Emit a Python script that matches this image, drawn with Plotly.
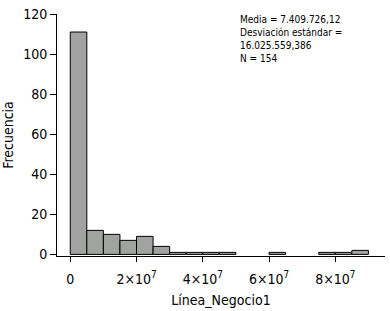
import plotly.graph_objects as go

bin_starts = [0, 5e6, 10e6, 15e6, 20e6, 25e6, 30e6, 35e6, 40e6, 45e6, 60e6, 75e6, 80e6, 85e6]
counts = [111, 12, 10, 7, 9, 4, 1, 1, 1, 1, 1, 1, 1, 2]
bin_width = 5e6

x_tickvals = [0, 2e7, 4e7, 6e7, 8e7]
x_ticktext = ["0", "2×10<sup>7</sup>", "4×10<sup>7</sup>", "6×10<sup>7</sup>", "8×10<sup>7</sup>"]
y_tickvals = [0, 20, 40, 60, 80, 100, 120]

stats_lines = ["Media = 7.409.726,12", "Desviación estándar =", "16.025.559,386", "N = 154"]

FONT = "Liberation Sans Narrow, DejaVu Sans Condensed, Arial Narrow, sans-serif"

W, H = 390, 311
ML, MR, MT, MB = 57, 5, 14, 55
PW, PH = W - ML - MR, H - MT - MB

fig = go.Figure()
fig.add_trace(go.Bar(
    x=[s + bin_width / 2 for s in bin_starts],
    y=counts,
    width=[bin_width] * len(counts),
    marker=dict(color="#a1a3a1", line=dict(color="black", width=1)),
    showlegend=False,
))

fig.update_layout(
    width=W, height=H,
    margin=dict(l=ML, r=MR, t=MT, b=MB),
    paper_bgcolor="white", plot_bgcolor="white",
    font=dict(family=FONT, size=14, color="black"),
    xaxis=dict(
        range=[-4e6, 9.5e7],
        tickvals=x_tickvals, ticktext=x_ticktext,
        ticks="outside", ticklen=5, tickcolor="black",
        ticklabelstandoff=5,
        showline=True, linecolor="black", linewidth=1,
        showgrid=False, zeroline=False, automargin=False,
        title=dict(text="Línea_Negocio1", font=dict(size=14), standoff=9),
    ),
    yaxis=dict(
        range=[-0.8, 120],
        tickvals=y_tickvals,
        ticks="outside", ticklen=6, tickcolor="black",
        showline=True, linecolor="black", linewidth=1,
        showgrid=False, zeroline=False, automargin=False,
        title=dict(text="Frecuencia", font=dict(size=14), standoff=6),
    ),
    annotations=[dict(
        x=(238 - ML) / PW, y=1 + (MT - 12) / PH, xref="paper", yref="paper", showarrow=False,
        text="<br>".join(stats_lines),
        xanchor="left", yanchor="top", align="left",
        font=dict(size=10, family=FONT),
    )],
)

fig.write_html(
    "out.html",
    config={"displayModeBar": False},
    post_script="document.body.style.margin='0';document.body.style.padding='0';document.body.style.overflow='hidden';",
)
